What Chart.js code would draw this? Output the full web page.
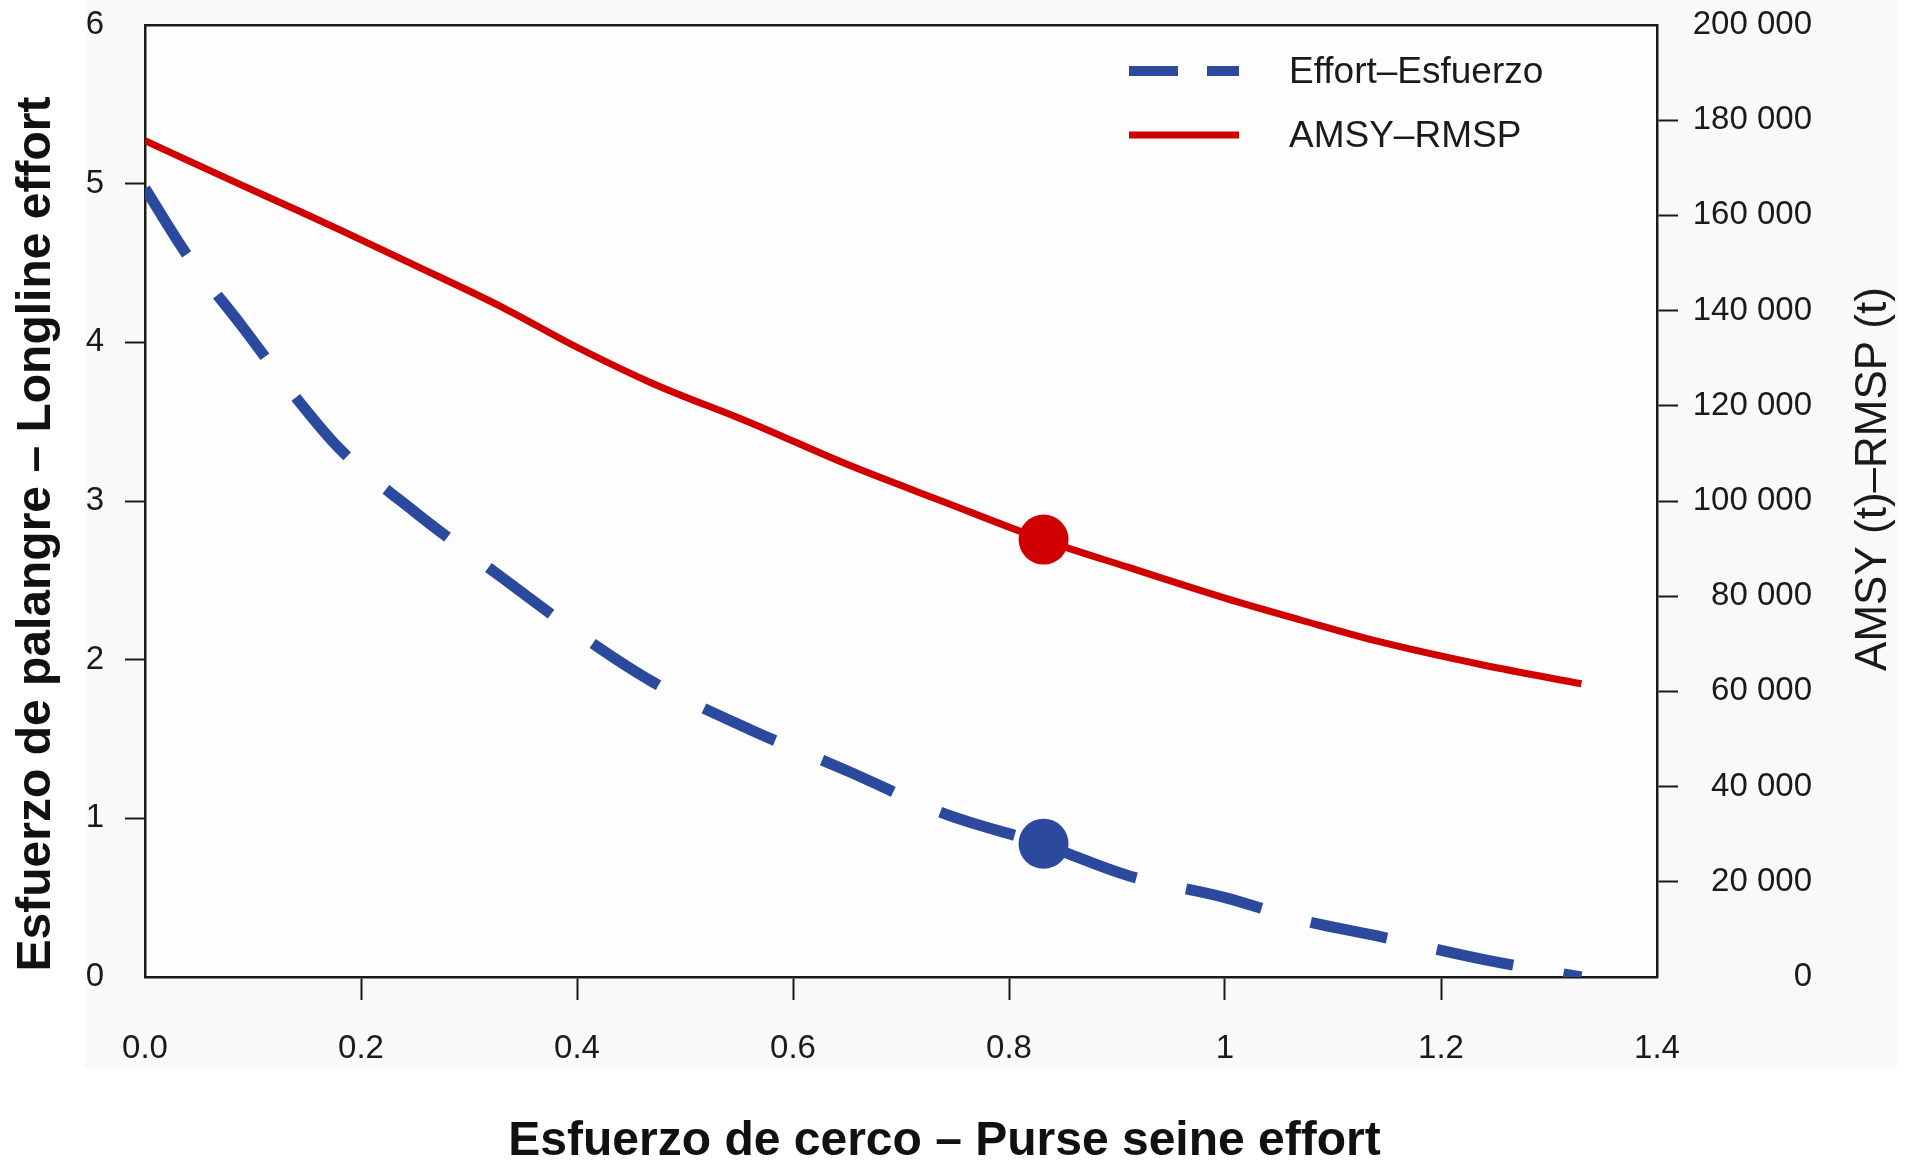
<!DOCTYPE html>
<html>
<head>
<meta charset="utf-8">
<script src="https://cdn.jsdelivr.net/npm/chart.js@4.4.1/dist/chart.umd.min.js"></script>
<style>
  html, body { margin: 0; padding: 0; background: #ffffff; }
  #caja { width: 1911px; height: 1162px; position: relative; }
</style>
</head>
<body>
<div id="caja"><canvas id="grafico"></canvas></div>
<script>
// esfuerzo de cerco (eje x) y esfuerzo de palangre (eje izquierdo)
const esfuerzoCerco = [0, 0.04, 0.09, 0.14, 0.18, 0.25, 0.33, 0.40, 0.47, 0.56, 0.65, 0.74, 0.83, 0.91, 1.00, 1.07, 1.14, 1.24, 1.33];
const esfuerzoPalangre = [4.97, 4.54, 4.10, 3.65, 3.33, 2.93, 2.52, 2.17, 1.86, 1.56, 1.30, 1.03, 0.84, 0.64, 0.50, 0.36, 0.26, 0.11, 0.0];
// AMSY-RMSP en toneladas (eje derecho)
const rmsp = [175700, 171500, 166300, 161200, 157000, 149500, 140800, 132300, 124700, 116500, 107700, 99800, 92000, 86100, 79600, 75000, 70600, 65500, 61600];

// punto actual
const puntoCerco = [0.832];
const puntoPalangre = [0.84];
const puntoRmsp = [91900];

const xTickLabels = ["0.0", "0.2", "0.4", "0.6", "0.8", "1", "1.2", "1.4"];
const yTickLabels = ["0", "1", "2", "3", "4", "5", "6"];
const y2TickLabels = ["0", "20 000", "40 000", "60 000", "80 000", "100 000", "120 000", "140 000", "160 000", "180 000", "200 000"];

const AZUL = "#2b4a9e";
const ROJO = "#d00000";
const FUENTE = "'Liberation Sans', Arial, Helvetica, sans-serif";

function puntos(xs, ys) {
    return xs.map((x, i) => ({ x: x, y: ys[i] }));
}

// sin marca de tick en los extremos (coinciden con las esquinas de la caja)
function colorTick(ctx) {
    const n = ctx.scale.ticks.length;
    if (ctx.index === 0 || ctx.index === n - 1) return "rgba(0,0,0,0)";
    return "#1a1a1a";
}

// ancho fijo del eje, sin el relleno extra que reserva para las etiquetas
function anchoFijo(ancho) {
    return s => {
        s.width = ancho;
        s.paddingTop = 0;
        s.paddingBottom = 0;
    };
}

/* =======================
   FONDO, TITULOS Y LEYENDA
======================== */
const fondoPlugin = {
    id: "fondo",
    beforeDraw(chart) {
        const ctx = chart.ctx;
        const a = chart.chartArea;
        ctx.save();
        ctx.fillStyle = "#ffffff";
        ctx.fillRect(0, 0, chart.width, chart.height);
        ctx.fillStyle = "#f9f9f9";
        ctx.fillRect(85, 0, chart.width - 99, a.bottom + 91);
        ctx.fillStyle = "#fdfdfd";
        ctx.fillRect(a.left, a.top, a.right - a.left, a.bottom - a.top);
        ctx.restore();
    }
};

const titulosPlugin = {
    id: "titulos",
    afterDraw(chart) {
        const ctx = chart.ctx;
        const a = chart.chartArea;
        ctx.save();
        ctx.fillStyle = "#111111";
        ctx.textAlign = "center";
        ctx.textBaseline = "middle";

        // eje x
        ctx.font = "bold 48px " + FUENTE;
        ctx.fillText("Esfuerzo de cerco \u2013 Purse seine effort", chart.width / 2 - 11, chart.height - 20);

        // eje izquierdo
        ctx.save();
        ctx.translate(37, (a.top + a.bottom) / 2 + 33);
        ctx.rotate(-Math.PI / 2);
        ctx.fillText("Esfuerzo de palangre \u2013 Longline effort", 0, 0);
        ctx.restore();

        // eje derecho
        ctx.save();
        ctx.font = "44px " + FUENTE;
        ctx.fillStyle = "#1a1a1a";
        ctx.translate(chart.width - 37, (a.top + a.bottom) / 2 - 22);
        ctx.rotate(-Math.PI / 2);
        ctx.fillText("AMSY (t)\u2013RMSP (t)", 0, 0);
        ctx.restore();

        // leyenda
        const x0 = a.right - 528;
        const x1 = a.right - 418;
        const xt = a.right - 368;
        const filas = [
            { texto: "Effort\u2013Esfuerzo", color: AZUL, ancho: 10, dash: [49, 29], y: a.top + 46 },
            { texto: "AMSY\u2013RMSP", color: ROJO, ancho: 7, dash: [], y: a.top + 110 }
        ];
        ctx.textAlign = "left";
        ctx.font = "37px " + FUENTE;
        filas.forEach(f => {
            ctx.beginPath();
            ctx.setLineDash(f.dash);
            ctx.lineCap = "butt";
            ctx.strokeStyle = f.color;
            ctx.lineWidth = f.ancho;
            ctx.moveTo(x0, f.y);
            ctx.lineTo(x1, f.y);
            ctx.stroke();
            ctx.setLineDash([]);
            ctx.fillStyle = "#1a1a1a";
            ctx.fillText(f.texto, xt, f.y + 2);
        });
        ctx.restore();
    }
};

/* =======================
   GRAFICO
======================== */
const ctxGrafico = document.getElementById("grafico").getContext("2d");

const grafico = new Chart(ctxGrafico, {
    type: "line",
    data: {
        datasets: [
            {
                label: "punto esfuerzo",
                data: puntos(puntoCerco, puntoPalangre),
                yAxisID: "y",
                showLine: false,
                pointRadius: 25,
                pointBackgroundColor: AZUL,
                pointBorderColor: AZUL,
                pointBorderWidth: 0
            },
            {
                label: "punto RMSP",
                data: puntos(puntoCerco, puntoRmsp),
                yAxisID: "y2",
                showLine: false,
                pointRadius: 25,
                pointBackgroundColor: ROJO,
                pointBorderColor: ROJO,
                pointBorderWidth: 0
            },
            {
                label: "Effort\u2013Esfuerzo",
                data: puntos(esfuerzoCerco, esfuerzoPalangre),
                yAxisID: "y",
                borderColor: AZUL,
                borderWidth: 11,
                borderDash: [78, 51],
                borderCapStyle: "butt",
                borderJoinStyle: "round",
                pointRadius: 0,
                cubicInterpolationMode: "monotone",
                fill: false
            },
            {
                label: "AMSY\u2013RMSP",
                data: puntos(esfuerzoCerco, rmsp),
                yAxisID: "y2",
                borderColor: ROJO,
                borderWidth: 7,
                borderCapStyle: "butt",
                borderJoinStyle: "round",
                pointRadius: 0,
                cubicInterpolationMode: "monotone",
                fill: false
            }
        ]
    },
    options: {
        responsive: true,
        maintainAspectRatio: false,
        animation: false,
        layout: { padding: { left: 0, top: 0, bottom: 0, right: 99 } },
        plugins: {
            legend: { display: false },
            tooltip: { enabled: false },
            title: { display: false }
        },
        scales: {
            x: {
                type: "linear",
                position: "bottom",
                min: 0,
                max: 1.4,
                afterFit: s => { s.height = 185; },
                ticks: {
                    stepSize: 0.2,
                    padding: 29,
                    maxRotation: 0,
                    autoSkip: false,
                    color: "#1a1a1a",
                    font: { family: FUENTE, size: 33 },
                    callback: (v, i) => xTickLabels[i]
                },
                grid: { drawOnChartArea: false, tickLength: 23, tickWidth: 2, tickColor: colorTick },
                border: { color: "#1a1a1a", width: 2.5 }
            },
            xTop: {
                type: "linear",
                position: "top",
                min: 0,
                max: 1.4,
                afterFit: s => { s.height = 22.5; },
                ticks: { display: false },
                grid: { drawOnChartArea: false, drawTicks: false },
                border: { color: "#1a1a1a", width: 2.5 }
            },
            y: {
                type: "linear",
                position: "left",
                min: 0,
                max: 6,
                afterFit: anchoFijo(145),
                ticks: {
                    stepSize: 1,
                    padding: 21,
                    color: "#1a1a1a",
                    font: { family: FUENTE, size: 33 },
                    callback: (v, i) => yTickLabels[i]
                },
                grid: { drawOnChartArea: false, tickLength: 20, tickWidth: 2, tickColor: colorTick },
                border: { color: "#1a1a1a", width: 2.5 }
            },
            y2: {
                type: "linear",
                position: "right",
                min: 0,
                max: 200000,
                afterFit: anchoFijo(155),
                ticks: {
                    stepSize: 20000,
                    padding: 18,
                    crossAlign: "far",
                    color: "#1a1a1a",
                    font: { family: FUENTE, size: 33 },
                    callback: (v, i) => y2TickLabels[i]
                },
                grid: { drawOnChartArea: false, tickLength: 21, tickWidth: 2, tickColor: colorTick },
                border: { color: "#1a1a1a", width: 2.5 }
            }
        }
    },
    plugins: [fondoPlugin, titulosPlugin]
});
</script>
</body>
</html>
